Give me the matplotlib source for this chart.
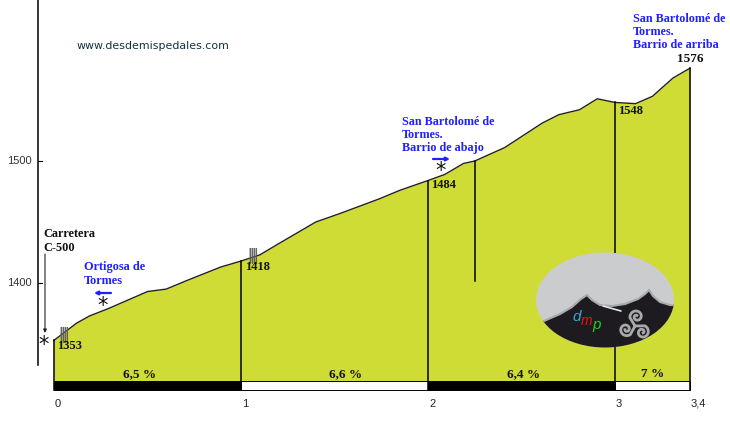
import numpy as np
import matplotlib
matplotlib.use("Agg")
import matplotlib.pyplot as plt
from matplotlib.patches import Ellipse, Polygon, Rectangle

# perfil: km / altitud
km = [0, 0.12, 0.19, 0.29, 0.41, 0.50, 0.60, 0.71, 0.89, 1.0, 1.10, 1.21, 1.40, 1.53, 1.74, 1.85, 2.0,
      2.09, 2.19, 2.25, 2.41, 2.61, 2.70, 2.81, 2.905, 3.0, 3.11, 3.20, 3.31, 3.4]
alt = [1353, 1367, 1373, 1379, 1387, 1393, 1395, 1402, 1413, 1418, 1423, 1433, 1450, 1457, 1469, 1476, 1484,
       1489, 1498, 1500, 1511, 1531, 1538, 1542, 1551, 1548, 1547, 1553, 1568, 1576]

tramo_ini = [0, 1, 2, 3]
tramo_fin = [1, 2, 3, 3.4]
tramo_pct = ["6,5 %", "6,6 %", "6,4 %", "7 %"]
tramo_color = ["black", "white", "black", "white"]

x_ticks = [0, 1, 2, 3, 3.4]
x_labels = ["0", "1", "2", "3", "3,4"]
y_ticks = [1400, 1500]

cotas_km = [0, 1, 2, 3, 3.4]
cotas_alt = [1353, 1418, 1484, 1548, 1576]
cierre_km = 2.25
cierre_alt = [1402, 1500]

VERDE = "#cfdc35"
AZUL = "#1f1fff"
BASE = 1319.7
SUELO = 1312.5
SERIF = ["Liberation Serif", "DejaVu Serif"]

fig = plt.figure(figsize=(7.3, 4.3), dpi=100)
ax = fig.add_axes([0, 0, 1, 1])
# 187 px por km, 122 px por 100 m
ax.set_xlim(-54 / 187, 676 / 187)
ax.set_ylim(1400 - 147 / 1.22, 1400 + 283 / 1.22)
ax.axis("off")

ax.fill_between(km, alt, BASE, color=VERDE, lw=0, zorder=1)
ax.plot(km, alt, color="#222222", lw=1.0, zorder=3)

for x, y in zip(cotas_km, cotas_alt):
    ax.plot([x, x], [SUELO, y], color="black", lw=1.1, zorder=3)
ax.plot([cierre_km, cierre_km], cierre_alt, color="black", lw=1.1, zorder=3)

# los porcentajes no van centrados en su tramo
pct_x = [0.46, 1.56, 2.51, 3.2]
for a, b, c, p, xp in zip(tramo_ini, tramo_fin, tramo_color, tramo_pct, pct_x):
    ax.add_patch(Rectangle((a, SUELO), b - a, BASE - SUELO, fc=c, ec="black", lw=0.7, zorder=2))
    ax.text(xp, BASE + 0.5, p, ha="center", va="bottom", family=SERIF, weight="bold",
            fontsize=9.5, color="#111111", zorder=4)

# ejes
ax.plot([-16.5 / 187, -16.5 / 187], [1400 - 82 / 1.22, 1632], color="black", lw=1.1)
for y in y_ticks:
    ax.plot([-16.5 / 187, -12 / 187], [y, y], color="black", lw=0.8)
    ax.text(-22 / 187, y, str(y), ha="right", va="center", family="Liberation Sans", fontsize=8, color="#333333")
for x, lab in zip(x_ticks, x_labels):
    ax.text(x + 1 / 187, 1400 - 121 / 1.22, lab, ha="left", va="center",
            family="Liberation Sans", fontsize=8, color="#222222")


def pix(px, py):
    return px / 730, 1 - py / 430


def rotulo(px, py, s, color="#111111", size=9):
    ax.text(*pix(px, py), s, transform=ax.transAxes, ha="left", va="center", family=SERIF, weight="bold",
            fontsize=size, color=color, linespacing=1.15, zorder=5)


rotulo(57, 346, "1353")
rotulo(245, 267, "1418")
rotulo(431, 185, "1484")
rotulo(618, 111, "1548")
rotulo(677, 59, "1576", size=9.5)
rotulo(43, 241, "Carretera\nC-500", size=8.8)
rotulo(84, 274, "Ortigosa de\nTormes", AZUL, 8.8)
rotulo(402, 135, "San Bartolomé de\nTormes.\nBarrio de abajo", AZUL, 8.7)
rotulo(633, 32, "San Bartolomé de\nTormes.\nBarrio de arriba", AZUL, 8.7)
ax.text(*pix(77, 46), "www.desdemispedales.com", transform=ax.transAxes, ha="left", va="center",
        family="DejaVu Sans", fontsize=7.9, color="#14323f")


# flechas y asteriscos
def flecha(x0, y0, x1, y1, color, lw):
    ax.annotate("", xy=pix(x1, y1), xytext=pix(x0, y0), xycoords="axes fraction", textcoords="axes fraction",
                arrowprops=dict(arrowstyle="-|>,head_width=0.1,head_length=0.2", color=color, lw=lw,
                                shrinkA=0, shrinkB=0))


flecha(111, 293, 94, 293, AZUL, 1.6)
flecha(433, 159, 450, 159, AZUL, 1.6)
flecha(45, 254, 45, 333, "#222222", 0.8)
for px, py in [(44, 345), (103, 306), (441, 171)]:
    ax.text(*pix(px, py), "*", transform=ax.transAxes, ha="center", va="center", family="DejaVu Sans",
            fontsize=15, color="#111111", zorder=5)

# marcas rayadas de los cruces
for x0, y0 in [(60, 327), (249, 248)]:
    xa, ya = pix(x0, y0 + 15)
    xb, yb = pix(x0 + 7.5, y0)
    ax.add_patch(Rectangle((xa, ya), xb - xa, yb - ya, transform=ax.transAxes, fc="#777777", alpha=0.45,
                           ec="none", zorder=4))
    for i in range(4):
        xa, ya = pix(x0 + 0.8 + i * 2, y0)
        xb, yb = pix(x0 + 0.8 + i * 2, y0 + 15)
        ax.plot([xa, xb], [ya, yb], transform=ax.transAxes, color="#555555", lw=0.8, alpha=0.85, zorder=4)

# logo en coordenadas de pixel
lg = fig.add_axes([0, 0, 1, 1], facecolor="none")
lg.set_xlim(0, 730)
lg.set_ylim(430, 0)
lg.axis("off")
elipse = Ellipse((605, 300), 138, 95, fc="#cbccce", ec="none", zorder=1)
lg.add_patch(elipse)
sombra = [(530, 326), (544, 321), (560, 314), (572, 307), (581, 299), (587, 295), (592, 300), (600, 305),
          (612, 306), (625, 304), (638, 299), (645, 294), (649, 290), (653, 296), (660, 302), (670, 305),
          (690, 306), (690, 380), (530, 380)]
oscuro = Polygon(sombra, fc="#1d1b20", ec="#a9aaae", lw=1.5, zorder=2)
lg.add_patch(oscuro)
oscuro.set_clip_path(elipse)
lg.plot([603, 621], [306, 311], color="#e6e6e6", lw=1.2, zorder=3, solid_capstyle="round")
lg.text(577, 317, "d", color="#35a7e0", style="italic", fontsize=11, family="Liberation Sans", ha="center", va="center", zorder=4)
lg.text(587, 321, "m", color="#ee1111", style="italic", fontsize=10, family="Liberation Sans", ha="center", va="center", zorder=4)
lg.text(597, 325, "p", color="#22cc22", style="italic", fontsize=11, family="Liberation Sans", ha="center", va="center", zorder=4)
# triskel: tres espirales alrededor del centro
t = np.linspace(0, 2.6 * np.pi, 60)
for ang in np.deg2rad([80, 200, 320]):
    r = 1.2 + 5.6 * t / t.max()
    cx = 635 + 9.5 * np.cos(ang)
    cy = 326 - 9.5 * np.sin(ang)
    xs = cx + r * np.cos(t + ang)
    ys = cy - r * np.sin(t + ang)
    lg.plot(np.append(xs, 635), np.append(ys, 326), color="#a8a8a8", lw=2.0, zorder=4)

fig.savefig("out.png", dpi=100)
